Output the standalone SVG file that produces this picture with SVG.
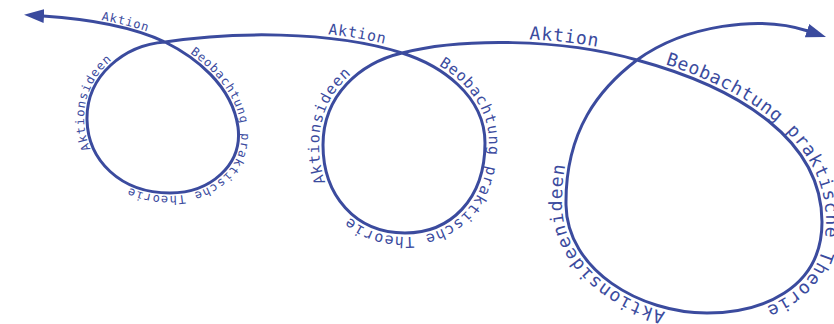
<svg xmlns="http://www.w3.org/2000/svg" xmlns:xlink="http://www.w3.org/1999/xlink" width="834" height="324" viewBox="0 0 834 324">
<style>
.ln{fill:none;stroke:#3b4b9e;stroke-width:3;stroke-linecap:round;stroke-linejoin:round}
.t{font-family:"DejaVu Sans Mono","Liberation Mono",monospace;fill:#3b4b9e}
.s1{font-size:12px;letter-spacing:0.7px}
.s2{font-size:15px;letter-spacing:0.5px}
.s3{font-size:18px;letter-spacing:0.6px}
</style>
<defs>
<marker id="ah" markerUnits="userSpaceOnUse" markerWidth="22" markerHeight="16" viewBox="0 0 22 16" refX="1" refY="8" orient="auto-start-reverse">
<path d="M0,1 L20,8 L0,15 Z" fill="#3b4b9e"/>
</marker>
<path id="pA" d="M43,16 C90,19 135,28 165,42"/>
<path id="pL1" d="M165,42 C195,57 232,85 238,127 C243,165 210,193 170,193 C120,193 88,160 87,120 C86,75 125,45 165,42"/>
<path id="pB" d="M165,42 C230,32 330,30 402,53"/>
<path id="pL2" d="M402,53 C440,65 485,95 485,143 C485,200 450,233 405,233 C355,233 323,195 323,145 C323,95 360,63 402,53"/>
<path id="pC" d="M402,53 C460,38 560,38 637,60"/>
<path id="pL3" d="M637,60 C740,88 822,140 822,222 C822,290 760,313 707,313 C640,313 567,270 566,205 C565,130 600,88 637,60"/>
</defs>
<g id="connectors">
<path class="ln" marker-start="url(#ah)" marker-end="url(#ah)" d="M43,16 C90,19 135,28 165,42 C195,57 232,85 238,127 C243,165 210,193 170,193 C120,193 88,160 87,120 C86,75 125,45 165,42 C230,32 330,30 402,53 C440,65 485,95 485,143 C485,200 450,233 405,233 C355,233 323,195 323,145 C323,95 360,63 402,53 C460,38 560,38 637,60 C740,88 822,140 822,222 C822,290 760,313 707,313 C640,313 567,270 566,205 C565,130 600,88 637,60 C685,25 760,15 808,31"/>
</g>
<g id="loop1">
<text class="t s1"><textPath href="#pA" startOffset="58"><tspan dy="-3">Aktion</tspan></textPath></text>
<text class="t s1"><textPath href="#pL1" startOffset="27"><tspan dy="-3">Beobachtung praktische Theorie</tspan></textPath></text>
<text class="t s1"><textPath href="#pL1" startOffset="318"><tspan dy="-3">Aktionsideen</tspan></textPath></text>
</g>
<g id="loop2">
<text class="t s2"><textPath href="#pB" startOffset="163"><tspan dy="-4">Aktion</tspan></textPath></text>
<text class="t s2"><textPath href="#pL2" startOffset="38"><tspan dy="-4">Beobachtung praktische Theorie</tspan></textPath></text>
<text class="t s2"><textPath href="#pL2" startOffset="364"><tspan dy="-4">Aktionsideen</tspan></textPath></text>
</g>
<g id="loop3">
<text class="t s3"><textPath href="#pC" startOffset="128"><tspan dy="-4">Aktion</tspan></textPath></text>
<text class="t s3"><textPath href="#pL3" startOffset="28"><tspan dy="-4">Beobachtung praktische Theorie</tspan></textPath></text>
<text class="t s3"><textPath href="#pL3" startOffset="470"><tspan dy="-4">Aktionsideenideen</tspan></textPath></text>
</g>
</svg>
